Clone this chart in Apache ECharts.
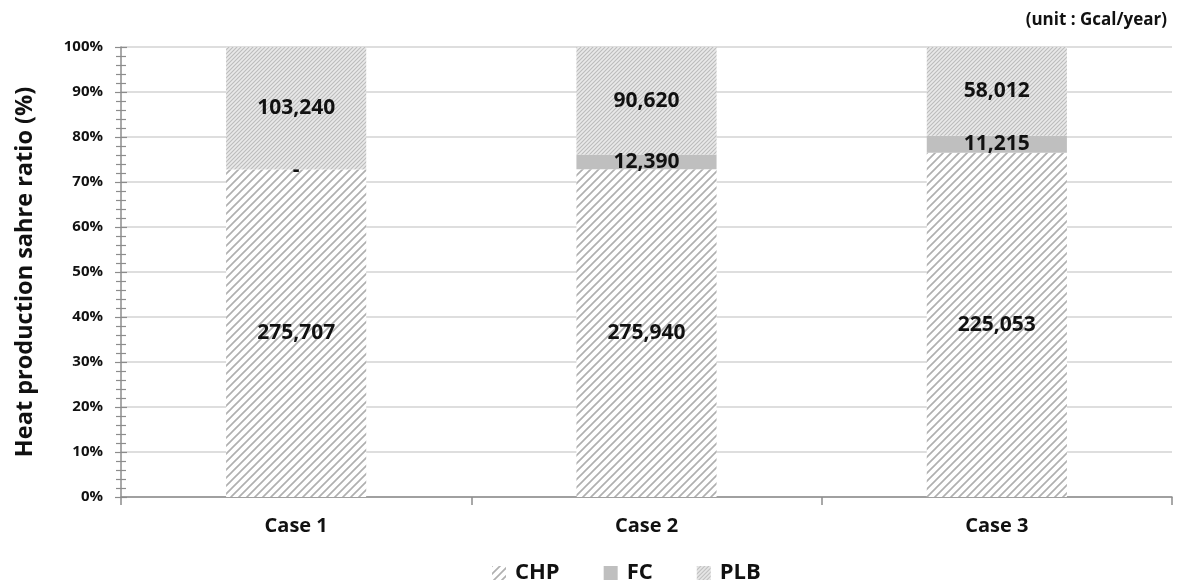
<!DOCTYPE html>
<html>
<head>
<meta charset="utf-8">
<script src="https://cdn.jsdelivr.net/npm/echarts@6/dist/echarts.min.js"></script>
<style>
  html, body { margin: 0; padding: 0; background: #fff; }
  #chart { width: 1177px; height: 584px; }
</style>
</head>
<body>
<div id="chart"></div>
<script>
// Annual heat production per source (Gcal/year)
const categories = ['Case 1', 'Case 2', 'Case 3'];
const chpValues = [275707, 275940, 225053];
const fcValues = [0, 12390, 11215];
const plbValues = [103240, 90620, 58012];
const yTicks = [0, 10, 20, 30, 40, 50, 60, 70, 80, 90, 100];

const totals = categories.map((_, i) => chpValues[i] + fcValues[i] + plbValues[i]);
const toShare = arr => arr.map((v, i) => ({ value: v / totals[i] * 100, raw: v }));

// Hatch fills
function hatch(size, bg, stroke, width) {
  const c = document.createElement('canvas');
  c.width = size; c.height = size;
  const g = c.getContext('2d');
  g.fillStyle = bg;
  g.fillRect(0, 0, size, size);
  g.strokeStyle = stroke;
  g.lineWidth = width;
  g.beginPath();
  g.moveTo(-1, size + 1); g.lineTo(size + 1, -1);
  g.moveTo(-1, 1); g.lineTo(1, -1);
  g.moveTo(size - 1, size + 1); g.lineTo(size + 1, size - 1);
  g.stroke();
  return { image: c, repeat: 'repeat' };
}
const chpFill = hatch(8, '#ffffff', '#b0b0b0', 1.7);
const plbFill = hatch(4, '#e9e9e9', '#bcbcbc', 1.1);
const fcFill = '#bfbfbf';

const font = '"Open Sans", "DejaVu Sans", sans-serif';
const fmt = p => p.data.raw === 0 ? '-' : p.data.raw.toLocaleString('en-US');
const label = {
  show: true, position: 'inside', formatter: fmt,
  color: '#111', fontFamily: font, fontWeight: 'bold', fontSize: 21
};

function series(name, arr, fill) {
  return {
    name, type: 'bar', stack: 'share', barWidth: '40%',
    data: toShare(arr), itemStyle: { color: fill }, label,
    emphasis: { disabled: true }
  };
}

const chart = echarts.init(document.getElementById('chart'));
chart.setOption({
  animation: false,
  grid: { left: 121, right: 5, top: 47, bottom: 87, containLabel: false },
  title: {
    text: '(unit : Gcal/year)', right: 5, top: 7,
    textStyle: { fontFamily: font, fontWeight: 'bold', fontSize: 17, color: '#111' }
  },
  legend: {
    bottom: -5, left: 487, itemWidth: 14, itemHeight: 14, itemGap: 44,
    icon: 'rect',
    textStyle: { fontFamily: font, fontWeight: 'bold', fontSize: 22, color: '#111', padding: [0, 0, 0, 4] },
    data: ['CHP', 'FC', 'PLB']
  },
  xAxis: {
    type: 'category', data: categories,
    axisLine: { lineStyle: { color: '#8c8c8c', width: 1.5 } },
    axisTick: { show: true, length: 8, lineStyle: { color: '#8c8c8c', width: 1.5 } },
    axisLabel: { margin: 19, fontFamily: font, fontWeight: 'bold', fontSize: 20, color: '#111' }
  },
  yAxis: [{
    type: 'value', min: yTicks[0], max: yTicks[yTicks.length - 1], interval: yTicks[1] - yTicks[0],
    name: 'Heat production sahre ratio (%)', nameLocation: 'middle', nameGap: 84, nameRotate: 90,
    nameTextStyle: { fontFamily: font, fontWeight: 'bold', fontSize: 23.5, color: '#111' },
    axisLine: { show: true, lineStyle: { color: '#8c8c8c', width: 1.5 } },
    axisTick: { show: true, length: 6, lineStyle: { color: '#8c8c8c', width: 1.2 } },
    minorTick: { show: true, splitNumber: 5, length: 5, lineStyle: { color: '#8c8c8c', width: 1.2 } },
    axisLabel: { margin: 18, formatter: '{value}%', fontFamily: font, fontWeight: 'bold', fontSize: 15, color: '#111' },
    splitLine: { show: true, lineStyle: { color: '#d3d3d3', width: 1.5 } }
  }, {
    type: 'value', position: 'left', min: yTicks[0], max: yTicks[yTicks.length - 1], interval: yTicks[1] - yTicks[0],
    axisLine: { show: false },
    axisTick: { show: true, inside: true, length: 6, lineStyle: { color: '#8c8c8c', width: 1.2 } },
    minorTick: { show: true, splitNumber: 5, length: 5, lineStyle: { color: '#8c8c8c', width: 1.2 } },
    axisLabel: { show: false },
    splitLine: { show: false }
  }],
  series: [
    series('CHP', chpValues, chpFill),
    series('FC', fcValues, fcFill),
    series('PLB', plbValues, plbFill)
  ]
});
</script>
</body>
</html>
